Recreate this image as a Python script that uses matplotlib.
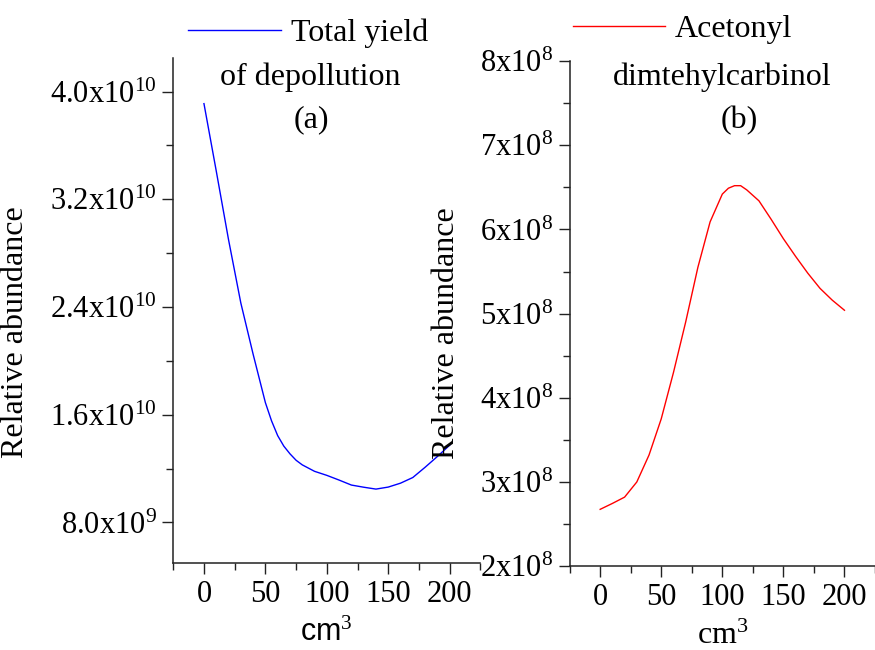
import matplotlib
matplotlib.use('Agg')
import matplotlib.pyplot as plt
from matplotlib.ticker import MultipleLocator, FuncFormatter

plt.rcParams['font.family'] = ['Liberation Serif', 'DejaVu Serif']
plt.rcParams['mathtext.fontset'] = 'custom'
plt.rcParams['mathtext.rm'] = 'Liberation Serif'
plt.rcParams['mathtext.it'] = 'Liberation Serif:italic'

# (a) total yield of depollution vs volume (cm3)
volume_a = [0, 10, 20, 30, 40, 50, 55, 60, 65, 70, 75, 80, 90, 100,
            110, 120, 130, 140, 150, 160, 170, 180, 190, 200]
total_yield = [3.91e10, 3.41e10, 2.90e10, 2.43e10, 2.05e10, 1.69e10, 1.555e10,
               1.445e10, 1.367e10, 1.31e10, 1.262e10, 1.228e10, 1.18e10,
               1.15e10, 1.115e10, 1.078e10, 1.062e10, 1.048e10, 1.063e10,
               1.092e10, 1.134e10, 1.21e10, 1.29e10, 1.374e10]

# (b) acetonyl dimethylcarbinol vs volume (cm3)
volume_b = [0, 10, 20, 30, 40, 50, 60, 70, 80, 90, 100, 105, 110, 115,
            120, 130, 140, 150, 160, 170, 180, 190, 200]
acetonyl = [2.675e8, 2.745e8, 2.82e8, 3.00e8, 3.32e8, 3.75e8, 4.30e8, 4.90e8,
            5.55e8, 6.09e8, 6.42e8, 6.49e8, 6.52e8, 6.52e8, 6.47e8, 6.34e8,
            6.12e8, 5.89e8, 5.68e8, 5.48e8, 5.30e8, 5.16e8, 5.04e8]

fig = plt.figure(figsize=(8.75, 6.5), dpi=100)
ax1 = fig.add_axes([0.198, 0.134, 0.351, 0.777])
ax2 = fig.add_axes([0.651, 0.129, 0.349, 0.777])

ax1.plot(volume_a, total_yield, color='#0000ff', lw=1.0, label='Total yield')
ax2.plot(volume_b, acetonyl, color='#ff0000', lw=1.0, label='Acetonyl')


def fmt_a(v, pos):
    if v >= 1e10:
        return r'%.1fx10$^{10}$' % (v / 1e10)
    return r'%.1fx10$^{9}$' % (v / 1e9)


def fmt_b(v, pos):
    return r'%dx10$^{8}$' % round(v / 1e8)


for ax in (ax1, ax2):
    for s in ('top', 'right'):
        ax.spines[s].set_visible(False)
    for s in ('left', 'bottom'):
        ax.spines[s].set_linewidth(1.1)
        ax.spines[s].set_color('#222222')
    ax.set_xlim(-25, 225)
    ax.xaxis.set_major_locator(MultipleLocator(50))
    ax.xaxis.set_minor_locator(MultipleLocator(25))
    ax.tick_params(which='major', direction='out', length=8, width=1.0,
                   colors='#222222', labelcolor='black', labelsize=22, pad=4)
    ax.tick_params(which='minor', direction='out', length=5, width=1.0,
                   colors='#222222')
    ax.set_ylabel('Relative abundance', fontsize=23)

ax1.set_ylim(5.0e9, 4.25e10)
ax1.yaxis.set_major_locator(MultipleLocator(8e9))
ax1.yaxis.set_minor_locator(MultipleLocator(4e9))
ax1.yaxis.set_major_formatter(FuncFormatter(fmt_a))
ax1.yaxis.set_label_coords(-0.465, 0.457)
ax1.set_xlabel('cm$^3$', fontsize=22, family='Liberation Sans')
ax1.xaxis.set_label_coords(0.5, -0.11)

ax2.set_ylim(2e8, 8e8)
ax2.yaxis.set_major_locator(MultipleLocator(1e8))
ax2.yaxis.set_minor_locator(MultipleLocator(0.5e8))
ax2.yaxis.set_major_formatter(FuncFormatter(fmt_b))
ax2.yaxis.set_label_coords(-0.355, 0.461)
ax2.set_xlabel('cm$^3$', fontsize=23)
ax2.xaxis.set_label_coords(0.5, -0.11)

# legends and panel captions
ax1.legend(loc='center left', bbox_to_anchor=(0.049, 1.048), frameon=False,
           fontsize=23, handlelength=2.9, handletextpad=0.3,
           borderpad=0, borderaxespad=0)
ax1.text(0.446, 0.962, 'of depollution', transform=ax1.transAxes,
         ha='center', va='center', fontsize=23)
ax1.text(0.45, 0.877, '(a)', transform=ax1.transAxes,
         ha='center', va='center', fontsize=23)

ax2.legend(loc='center left', bbox_to_anchor=(0.01, 1.063), frameon=False,
           fontsize=23, handlelength=2.9, handletextpad=0.3,
           borderpad=0, borderaxespad=0)
ax2.text(0.498, 0.968, 'dimtehylcarbinol', transform=ax2.transAxes,
         ha='center', va='center', fontsize=23)
ax2.text(0.557, 0.883, '(b)', transform=ax2.transAxes,
         ha='center', va='center', fontsize=23)

fig.savefig('out.png', dpi=100)
